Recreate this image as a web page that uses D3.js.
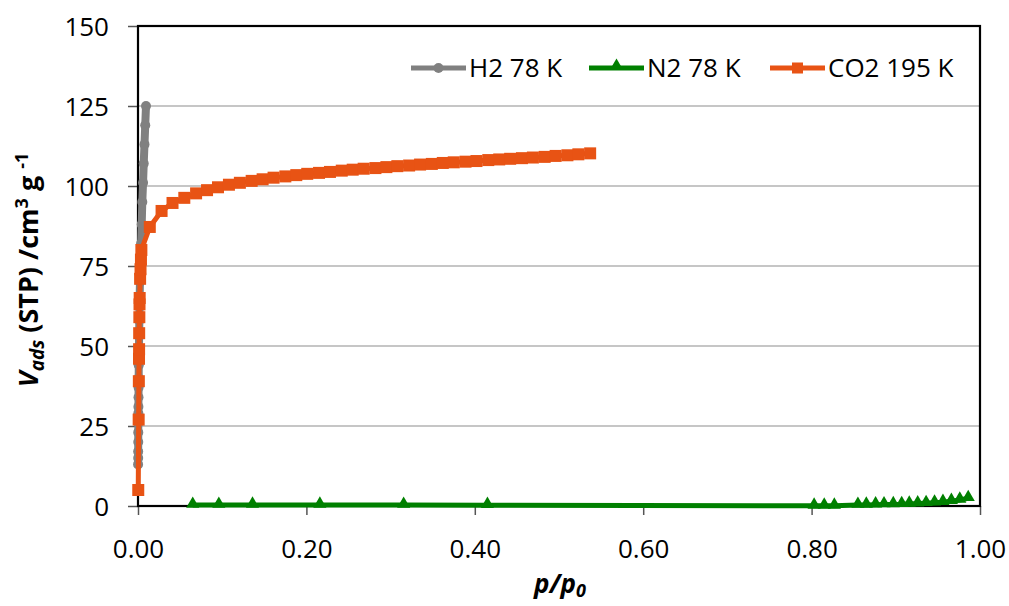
<!DOCTYPE html>
<html><head><meta charset="utf-8">
<script src="https://cdn.jsdelivr.net/npm/d3@7"></script>
<style>body{margin:0;background:#fff}svg{display:block}text{font-family:"Open Sans",sans-serif}</style>
</head><body><svg id="c" width="1009" height="606"></svg>
<script>
const xTicks = [0, 0.2, 0.4, 0.6, 0.8, 1.0];
const yTicks = [0, 25, 50, 75, 100, 125, 150];
const seriesNames = ["H2 78 K", "N2 78 K", "CO2 195 K"];

const h2X = [0.0001,0.0002,0.0002,0.0003,0.0003,0.0004,0.0004,0.0005,0.0006,0.0007,0.0008,0.0009,0.0011,0.0013,0.0016,0.0019,0.0023,0.0030,0.0037,0.0044,0.0051,0.0060,0.0068,0.0077,0.0086,0.0095];
const h2Y = [13,15,17,20,23,26,29,31,34,37,40,44,48,53,58,64,70,76,82,88,95,101,107,113,119,125];

const n2X = [0.065,0.096,0.136,0.216,0.3155,0.415,0.803,0.815,0.827,0.855,0.865,0.876,0.886,0.897,0.907,0.916,0.926,0.936,0.946,0.956,0.966,0.976,0.986];
const n2Y = [0.3,0.3,0.35,0.35,0.3,0.25,0.05,0.05,0.05,0.3,0.35,0.4,0.45,0.5,0.55,0.65,0.75,0.85,1.0,1.2,1.5,1.9,2.4];

const co2X = [0.0003,0.0008,0.0010,0.0012,0.0013,0.0014,0.0016,0.0018,0.0020,0.0025,0.0030,0.0035,0.0040,0.014,0.028,0.041,0.055,0.069,0.082,0.095,0.108,0.121,0.135,0.148,0.161,0.175,0.188,0.201,0.215,0.228,0.242,0.255,0.268,0.282,0.295,0.308,0.322,0.335,0.349,0.362,0.375,0.389,0.402,0.416,0.429,0.442,0.456,0.469,0.483,0.496,0.510,0.523,0.537];
const co2Y = [5,27,39,46,49,54,59,63,65,71,74,77,80,87.2,92.2,94.7,96.3,97.7,98.7,99.6,100.4,101.0,101.6,102.1,102.6,103.0,103.4,103.8,104.1,104.4,104.8,105.1,105.4,105.6,105.9,106.2,106.4,106.7,106.9,107.2,107.4,107.6,107.8,108.1,108.3,108.5,108.7,108.9,109.1,109.4,109.6,109.9,110.2];

const colors = {h2:"#808080", n2:"#008000", co2:"#E85314"};
const svg = d3.select("#c");
const L = 138, R = 980, T = 26, B = 506;
const x = d3.scaleLinear().domain([0,1]).range([L,R]);
const y = d3.scaleLinear().domain([0,150]).range([B,T]);

// gridlines
svg.append("g").selectAll("line").data(yTicks.filter(d=>d>0&&d<150)).join("line")
  .attr("x1",L).attr("x2",R).attr("y1",d=>y(d)).attr("y2",d=>y(d))
  .attr("stroke","#b3b3b3").attr("stroke-width",1.5);

// axes
const fs = 26;
const xa = svg.append("g").attr("transform",`translate(0,${B})`)
  .call(d3.axisBottom(x).tickValues(xTicks).tickFormat(d3.format(".2f")).tickSize(9).tickSizeOuter(0));
const ya = svg.append("g").attr("transform",`translate(${L},0)`)
  .call(d3.axisLeft(y).tickValues(yTicks).tickSize(10).tickSizeOuter(0));
[xa,ya].forEach(a=>{
  a.select(".domain").remove();
  a.selectAll(".tick line").attr("stroke","#555").attr("stroke-width",1.5);
  a.selectAll("text").attr("font-size",fs).attr("fill","#000").attr("font-family","'Open Sans',sans-serif");
});
xa.selectAll("text").attr("dy",null).attr("y",52);
ya.selectAll("text").attr("x",-29).attr("dy","0.36em");

// plot border
svg.append("rect").attr("x",L).attr("y",T).attr("width",R-L).attr("height",B-T)
  .attr("fill","none").attr("stroke","#000").attr("stroke-width",2.2);

const line = d3.line().x(d=>x(d[0])).y(d=>y(d[1]));
function zip(a,b){return a.map((v,i)=>[v,b[i]]);}
const h2 = zip(h2X,h2Y), n2 = zip(n2X,n2Y), co2 = zip(co2X,co2Y);

// H2
svg.append("path").datum(h2).attr("d",line).attr("fill","none").attr("stroke",colors.h2).attr("stroke-width",8).attr("stroke-linejoin","round").attr("stroke-linecap","round");
svg.append("g").selectAll("circle").data(h2).join("circle").attr("cx",d=>x(d[0])).attr("cy",d=>y(d[1])).attr("r",5).attr("fill",colors.h2);
// N2
svg.append("path").datum(n2).attr("d",line).attr("fill","none").attr("stroke",colors.n2).attr("stroke-width",5).attr("stroke-linejoin","round");
const tri = d3.symbol().type(d3.symbolTriangle).size(75);
svg.append("g").selectAll("path").data(n2).join("path").attr("d",tri).attr("transform",d=>`translate(${x(d[0])},${y(d[1])-1})`).attr("fill",colors.n2);
// CO2
svg.append("path").datum(co2).attr("d",line).attr("fill","none").attr("stroke",colors.co2).attr("stroke-width",5).attr("stroke-linejoin","round");
svg.append("g").selectAll("rect").data(co2).join("rect").attr("x",d=>x(d[0])-6).attr("y",d=>y(d[1])-6).attr("width",12).attr("height",12).attr("fill",colors.co2);

// legend
const legX = [411, 589, 770];
const legY = 68;
const lg = svg.append("g");
seriesNames.forEach((nm,i)=>{
  const c = [colors.h2,colors.n2,colors.co2][i];
  lg.append("line").attr("x1",legX[i]).attr("x2",legX[i]+55).attr("y1",legY).attr("y2",legY).attr("stroke",c).attr("stroke-width",5);
  const cx = legX[i]+27.5;
  if(i===0) lg.append("circle").attr("cx",cx).attr("cy",legY).attr("r",5).attr("fill",c);
  if(i===1) lg.append("path").attr("d",tri).attr("transform",`translate(${cx},${legY-2})`).attr("fill",c);
  if(i===2) lg.append("rect").attr("x",cx-5.5).attr("y",legY-5.5).attr("width",11).attr("height",11).attr("fill",c);
  lg.append("text").attr("x",legX[i]+58).attr("y",legY).attr("dy","0.36em").attr("font-size",fs).text(nm);
});

// y label
const yl = svg.append("text").attr("transform","translate(38,270) rotate(-90)").attr("text-anchor","middle").attr("font-size",27).attr("font-weight","bold");
yl.append("tspan").attr("font-style","italic").text("V");
yl.append("tspan").attr("font-style","italic").attr("font-size",19).attr("dy",6).text("ads");
yl.append("tspan").attr("dy",-6).text(" (STP) /cm");
yl.append("tspan").attr("font-size",18).attr("dy",-10).text("3");
yl.append("tspan").attr("dy",10).text(" g ");
yl.append("tspan").attr("font-size",18).attr("dy",-10).text("-1");

// x label
const xl = svg.append("text").attr("x",560).attr("y",593).attr("text-anchor","middle").attr("font-size",26).attr("font-weight","bold").attr("font-style","italic");
xl.append("tspan").text("p/p");
xl.append("tspan").attr("font-size",18).attr("dy",4).text("0");
</script></body></html>
